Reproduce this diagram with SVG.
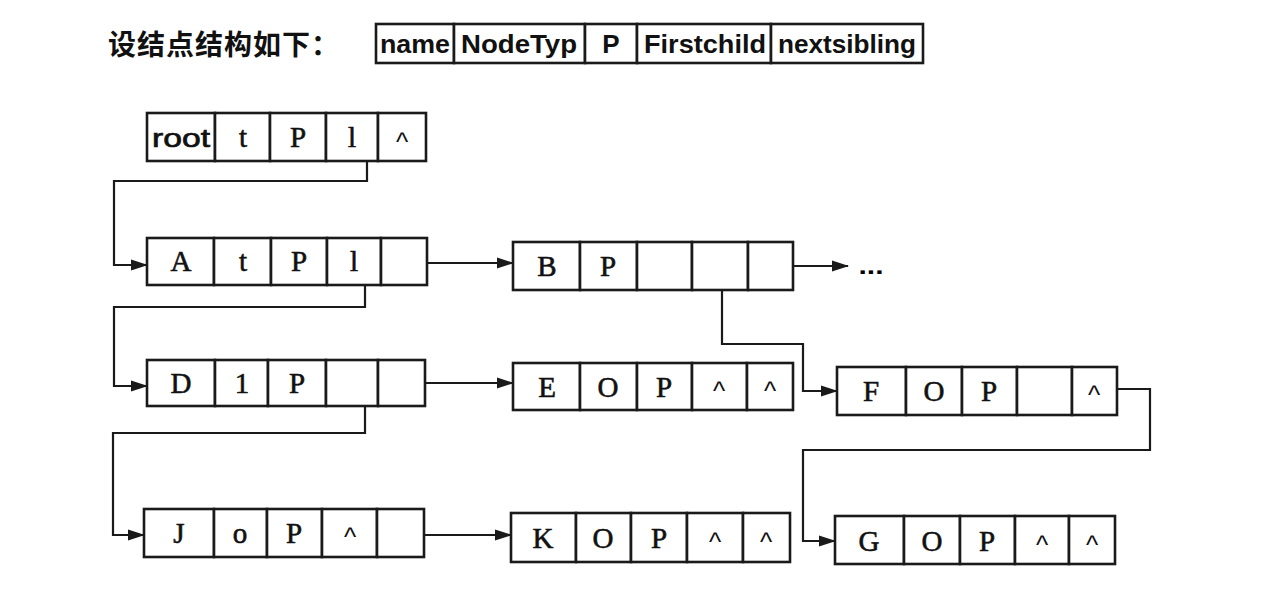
<svg xmlns="http://www.w3.org/2000/svg" width="1280" height="596" viewBox="0 0 1280 596">
<defs>
<style>
.cell{fill:#fff;stroke:#1a1a1a;stroke-width:2.6}
.conn{fill:none;stroke:#1a1a1a;stroke-width:2.2}
.t{font-family:"Liberation Serif","Times New Roman",serif;font-size:29px;fill:#111;stroke:#111;stroke-width:0.6;text-anchor:middle}
.c{font-family:"Liberation Sans",Arial,sans-serif;font-size:26px;fill:#111;text-anchor:middle}
.h{font-family:"Liberation Sans",Arial,sans-serif;font-size:26px;font-weight:bold;fill:#111;text-anchor:middle}
.r{font-family:"Liberation Sans",Arial,sans-serif;font-size:26px;font-weight:normal;fill:#111;stroke:#111;stroke-width:0.7;text-anchor:middle}
.title{font-family:"Liberation Sans","Noto Sans CJK SC",sans-serif;font-size:28px;font-weight:bold;fill:#111;letter-spacing:1px}
</style>
<marker id="arr" markerUnits="userSpaceOnUse" markerWidth="17" markerHeight="12" refX="16" refY="6" orient="auto">
<path d="M0,0.5 L17,6 L0,11.5 Z" fill="#1a1a1a"/>
</marker>
</defs>
<rect width="1280" height="596" fill="#fff"/>

<text class="title" x="108" y="55">设结点结构如下：</text>

<g id="legend">
<rect class="cell" x="376" y="24" width="78" height="39"/>
<rect class="cell" x="454" y="24" width="131" height="39"/>
<rect class="cell" x="585" y="24" width="52" height="39"/>
<rect class="cell" x="637" y="24" width="134" height="39"/>
<rect class="cell" x="771" y="24" width="152" height="39"/>
<text class="h" x="415" y="53" textLength="70" lengthAdjust="spacingAndGlyphs">name</text>
<text class="h" x="519" y="53" textLength="116" lengthAdjust="spacingAndGlyphs">NodeTyp</text>
<text class="h" x="611" y="53">P</text>
<text class="h" x="705" y="53" textLength="122" lengthAdjust="spacingAndGlyphs">Firstchild</text>
<text class="h" x="847" y="53" textLength="138" lengthAdjust="spacingAndGlyphs">nextsibling</text>
</g>

<g id="connectors">
<path class="conn" d="M367,161 V181 H114 V265 H147" marker-end="url(#arr)"/>
<path class="conn" d="M427,263 H513" marker-end="url(#arr)"/>
<path class="conn" d="M793,266 H848" marker-end="url(#arr)"/>
<path class="conn" d="M722,290 V344 H803 V391 H837" marker-end="url(#arr)"/>
<path class="conn" d="M365,285 V307 H114 V386 H147" marker-end="url(#arr)"/>
<path class="conn" d="M425,383 H513" marker-end="url(#arr)"/>
<path class="conn" d="M365,406 V433 H113 V535 H144" marker-end="url(#arr)"/>
<path class="conn" d="M424,535 H511" marker-end="url(#arr)"/>
<path class="conn" d="M1117,389 H1150 V450 H803 V541 H835" marker-end="url(#arr)"/>
<text x="871" y="274" font-family="Liberation Sans,Arial,sans-serif" font-size="24" font-weight="bold" text-anchor="middle" textLength="25" lengthAdjust="spacingAndGlyphs">...</text>
</g>

<g id="node-root">
<rect class="cell" x="147" y="113" width="68" height="48"/>
<rect class="cell" x="215" y="113" width="55" height="48"/>
<rect class="cell" x="270" y="113" width="56" height="48"/>
<rect class="cell" x="326" y="113" width="52" height="48"/>
<rect class="cell" x="378" y="113" width="48" height="48"/>
<text class="r" x="181" y="147" textLength="58" lengthAdjust="spacingAndGlyphs">root</text>
<text class="t" x="243" y="147">t</text>
<text class="t" x="298" y="147">P</text>
<text class="t" x="352" y="147">l</text>
<text class="c" x="402" y="151">^</text>
</g>

<g id="node-A">
<rect class="cell" x="147" y="238" width="67" height="47"/>
<rect class="cell" x="214" y="238" width="57" height="47"/>
<rect class="cell" x="271" y="238" width="56" height="47"/>
<rect class="cell" x="327" y="238" width="54" height="47"/>
<rect class="cell" x="381" y="238" width="46" height="47"/>
<text class="t" x="181" y="271">A</text>
<text class="t" x="243" y="271">t</text>
<text class="t" x="299" y="271">P</text>
<text class="t" x="354" y="271">l</text>
</g>

<g id="node-B">
<rect class="cell" x="513" y="242" width="67" height="48"/>
<rect class="cell" x="580" y="242" width="57" height="48"/>
<rect class="cell" x="637" y="242" width="55" height="48"/>
<rect class="cell" x="692" y="242" width="56" height="48"/>
<rect class="cell" x="748" y="242" width="45" height="48"/>
<text class="t" x="547" y="276">B</text>
<text class="t" x="608" y="276">P</text>
</g>

<g id="node-D">
<rect class="cell" x="147" y="360" width="68" height="46"/>
<rect class="cell" x="215" y="360" width="53" height="46"/>
<rect class="cell" x="268" y="360" width="58" height="46"/>
<rect class="cell" x="326" y="360" width="52" height="46"/>
<rect class="cell" x="378" y="360" width="47" height="46"/>
<text class="t" x="181" y="393">D</text>
<text class="t" x="242" y="393">1</text>
<text class="t" x="297" y="393">P</text>
</g>

<g id="node-E">
<rect class="cell" x="513" y="363" width="67" height="47"/>
<rect class="cell" x="580" y="363" width="57" height="47"/>
<rect class="cell" x="637" y="363" width="55" height="47"/>
<rect class="cell" x="692" y="363" width="55" height="47"/>
<rect class="cell" x="747" y="363" width="46" height="47"/>
<text class="t" x="547" y="397">E</text>
<text class="t" x="608" y="397">O</text>
<text class="t" x="664" y="397">P</text>
<text class="c" x="719" y="400">^</text>
<text class="c" x="770" y="400">^</text>
</g>

<g id="node-F">
<rect class="cell" x="837" y="367" width="69" height="48"/>
<rect class="cell" x="906" y="367" width="56" height="48"/>
<rect class="cell" x="962" y="367" width="55" height="48"/>
<rect class="cell" x="1017" y="367" width="55" height="48"/>
<rect class="cell" x="1072" y="367" width="45" height="48"/>
<text class="t" x="871" y="401">F</text>
<text class="t" x="934" y="401">O</text>
<text class="t" x="989" y="401">P</text>
<text class="c" x="1094" y="404">^</text>
</g>

<g id="node-J">
<rect class="cell" x="144" y="509" width="70" height="48"/>
<rect class="cell" x="214" y="509" width="53" height="48"/>
<rect class="cell" x="267" y="509" width="55" height="48"/>
<rect class="cell" x="322" y="509" width="55" height="48"/>
<rect class="cell" x="377" y="509" width="47" height="48"/>
<text class="t" x="179" y="543">J</text>
<text class="t" x="240" y="543" font-size="25">o</text>
<text class="t" x="294" y="543">P</text>
<text class="c" x="350" y="546">^</text>
</g>

<g id="node-K">
<rect class="cell" x="511" y="513" width="65" height="49"/>
<rect class="cell" x="576" y="513" width="55" height="49"/>
<rect class="cell" x="631" y="513" width="56" height="49"/>
<rect class="cell" x="687" y="513" width="56" height="49"/>
<rect class="cell" x="743" y="513" width="47" height="49"/>
<text class="t" x="543" y="548">K</text>
<text class="t" x="603" y="548">O</text>
<text class="t" x="659" y="548">P</text>
<text class="c" x="715" y="551">^</text>
<text class="c" x="766" y="551">^</text>
</g>

<g id="node-G">
<rect class="cell" x="835" y="516" width="69" height="48"/>
<rect class="cell" x="904" y="516" width="56" height="48"/>
<rect class="cell" x="960" y="516" width="55" height="48"/>
<rect class="cell" x="1015" y="516" width="54" height="48"/>
<rect class="cell" x="1069" y="516" width="46" height="48"/>
<text class="t" x="869" y="551">G</text>
<text class="t" x="932" y="551">O</text>
<text class="t" x="987" y="551">P</text>
<text class="c" x="1042" y="554">^</text>
<text class="c" x="1092" y="554">^</text>
</g>
</svg>
